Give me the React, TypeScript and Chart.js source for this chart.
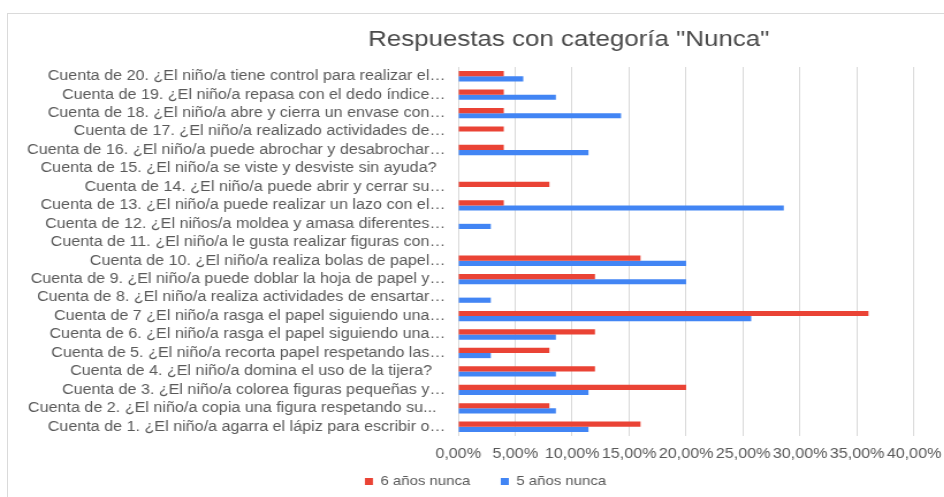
import React, { useEffect, useRef } from "react";
import { Chart, registerables } from "chart.js";

Chart.register(...registerables);

const TITLE = 'Respuestas con categoría "Nunca"';

const categories = [
  "Cuenta de 20. ¿El niño/a tiene control para realizar el…",
  "Cuenta de 19. ¿El niño/a repasa con el dedo índice…",
  "Cuenta de 18. ¿El niño/a abre y cierra un envase con…",
  "Cuenta de 17. ¿El niño/a realizado actividades de…",
  "Cuenta de 16. ¿El niño/a puede abrochar y desabrochar…",
  "Cuenta de 15. ¿El niño/a se viste y desviste sin ayuda?\u00A0\u00A0",
  "Cuenta de 14. ¿El niño/a puede abrir y cerrar su…",
  "Cuenta de 13. ¿El niño/a puede realizar un lazo con el…",
  "Cuenta de 12. ¿El niños/a moldea y amasa diferentes…",
  "Cuenta de 11. ¿El niño/a le gusta realizar figuras con…",
  "Cuenta de 10. ¿El niño/a realiza bolas de papel…",
  "Cuenta de 9. ¿El niño/a puede doblar la hoja de papel y…",
  "Cuenta de 8. ¿El niño/a realiza actividades de ensartar…",
  "Cuenta de 7 ¿El niño/a rasga el papel siguiendo una…",
  "Cuenta de 6. ¿El niño/a rasga el papel siguiendo una…",
  "Cuenta de 5. ¿El niño/a recorta papel respetando las…",
  "Cuenta de 4. ¿El niño/a domina el uso de la tijera?\u00A0\u00A0\u00A0",
  "Cuenta de 3. ¿El niño/a colorea figuras pequeñas y…",
  "Cuenta de 2. ¿El niño/a copia una figura respetando su...\u00A0\u00A0",
  "Cuenta de 1. ¿El niño/a agarra el lápiz para escribir o…",
];

const seisAnosNunca = [4, 4, 4, 4, 4, 0, 8, 4, 0, 0, 16, 12, 0, 36, 12, 8, 12, 20, 8, 16];
const cincoAnosNunca = [5.71, 8.57, 14.29, 0, 11.43, 0, 0, 28.57, 2.86, 0, 20, 20, 2.86, 25.71, 8.57, 2.86, 8.57, 11.43, 8.57, 11.43];

const seriesNames = ["6 años nunca", "5 años nunca"];
const xMin = 0;
const xMax = 40;
const xStep = 5;

const S = 1.15;
const FONT = "'Liberation Sans', Arial, sans-serif";

export default function App() {
  const ref = useRef<HTMLCanvasElement | null>(null);

  useEffect(() => {
    if (!ref.current) return;
    const titlePlugin = {
      id: "customTitle",
      afterLayout(chart: any) {
        if (chart.legend) {
          chart.legend.left += 15;
          chart.legend.right += 15;
        }
      },
      afterDraw(chart: any) {
        const ctx = chart.ctx;
        ctx.save();
        ctx.font = `22.5px ${FONT}`;
        ctx.fillStyle = "#4a4a4a";
        ctx.textAlign = "center";
        ctx.textBaseline = "alphabetic";
        ctx.fillText(TITLE, 487, 31.5);
        ctx.restore();
      },
    };
    const chart = new Chart(ref.current, {
      type: "bar",
      data: {
        labels: categories,
        datasets: [
          {
            label: seriesNames[0],
            data: seisAnosNunca,
            backgroundColor: "#ea4335",
            borderWidth: 0,
            categoryPercentage: 0.56,
            barPercentage: 1,
          },
          {
            label: seriesNames[1],
            data: cincoAnosNunca,
            backgroundColor: "#4285f4",
            borderWidth: 0,
            categoryPercentage: 0.56,
            barPercentage: 1,
          },
        ],
      },
      options: {
        indexAxis: "y",
        animation: false,
        responsive: true,
        maintainAspectRatio: false,
        layout: { padding: { top: 53, right: 0, left: 0, bottom: 0 } },
        plugins: {
          title: { display: false },
          tooltip: { enabled: false },
          legend: {
            position: "bottom",
            labels: {
              boxWidth: 7,
              boxHeight: 7,
              padding: 12,
              color: "#595959",
              font: { family: FONT, size: 13 },
              generateLabels: (c: any) =>
                Chart.defaults.plugins.legend.labels
                  .generateLabels(c)
                  .map((l: any) => ({ ...l, text: l.text + "\u00A0\u00A0\u00A0\u00A0" })),
            },
          },
        },
        scales: {
          x: {
            min: xMin,
            max: xMax,
            afterFit(scale: any) {
              scale.paddingRight = 27;
              scale.height = 27;
            },
            grid: { color: "#d9d9d9", drawTicks: false, lineWidth: 1 },
            border: { display: false },
            ticks: {
              stepSize: xStep,
              padding: 10,
              color: "#595959",
              font: { family: FONT, size: 14 },
              maxRotation: 0,
              autoSkip: false,
              callback: (v: any) => Number(v).toFixed(2).replace(".", ",") + "%",
            },
          },
          y: {
            afterFit(scale: any) {
              scale.width = 391;
            },
            grid: { display: false },
            border: { display: false },
            ticks: {
              padding: 3,
              color: "#595959",
              autoSkip: false,
              font: { family: FONT, size: 14 },
            },
          },
        },
      },
      plugins: [titlePlugin],
    });
    return () => chart.destroy();
  }, []);

  return (
    <div
      style={{
        position: "fixed",
        left: 7,
        top: 13,
        right: 0,
        bottom: 0,
        borderLeft: "1px solid #dadada",
        borderTop: "1px solid #dadada",
        background: "#fff",
        overflow: "hidden",
      }}
    >
      <div
        style={{
          width: `${936 / S}px`,
          height: "484px",
          transform: `scaleX(${S})`,
          transformOrigin: "0 0",
          position: "relative",
        }}
      >
        <canvas ref={ref} />
      </div>
    </div>
  );
}
